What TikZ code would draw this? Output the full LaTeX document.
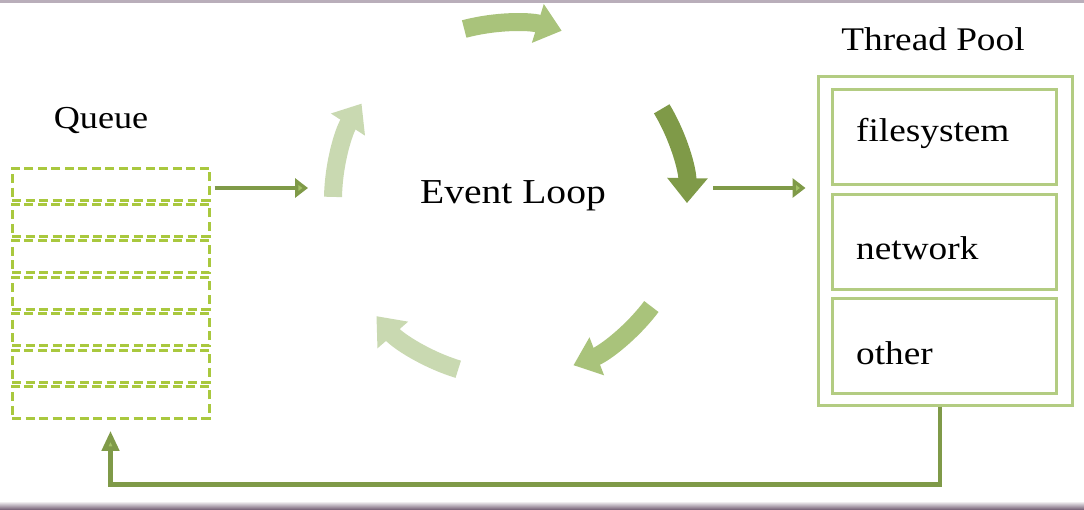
\documentclass[tikz,border=0pt]{standalone}
\usepackage{fontspec}
\setmainfont{Liberation Serif}[FakeStretch=1.13]
\usetikzlibrary{calc,arrows.meta}
\definecolor{qgreen}{HTML}{A9C83E}
\definecolor{pgreen}{HTML}{B3CC82}
\definecolor{dgreen}{HTML}{7F9A48}
\definecolor{mgreen}{HTML}{A9C37B}
\definecolor{lgreen}{HTML}{C9D9B1}
\definecolor{tipgreen}{HTML}{A4C266}
\definecolor{edgetop}{HTML}{B9AEBA}
\definecolor{edgebot}{HTML}{7D6A7E}

\tikzset{
  qbox/.style={draw=qgreen,line width=3pt,dash pattern=on 9pt off 4.5pt,
    minimum width=197pt,minimum height=32pt,inner sep=0pt},
  pbox/.style={draw=pgreen,line width=3pt,minimum width=224pt,minimum height=95pt,inner sep=0pt},
  ptext/.style={anchor=base west,inner sep=0pt,font=\fontsize{33}{38}\selectfont},
  lbl/.style={anchor=base,font=\fontsize{33}{40}\selectfont},
  feed/.style={draw=dgreen,line width=3.5pt,-{Triangle[length=13pt,width=19pt,fill=tipgreen]}},
  turn/.style={line width=18pt,-{Triangle[length=25pt,width=39pt]}}
}

\begin{document}
\begin{tikzpicture}[x=1pt,y=-1pt]
\useasboundingbox (0,0) rectangle (1084,509);
\fill[edgetop] (0,0) rectangle (1084,3);
\shade[top color=white,bottom color=edgebot] (0,501) rectangle (1084,509);

% queue
\node[lbl,font=\fontsize{32}{38}\selectfont] (qlabel) at (101,128) {Queue};
\foreach \i in {1,...,7}
  \node[qbox] (q\i) at (110.5,{184+36.4*(\i-1)}) {};

% event loop
\node[anchor=base,font=\fontsize{35}{42}\selectfont] (loop) at (513,203) {Event Loop};
\coordinate (hub) at (510,200);
\foreach \a/\col in {-105/mgreen, -31/dgreen, 37/mgreen, 107/lgreen, -179/lgreen}
  \draw[turn,\col] ($(hub)+(\a:177)$) arc[start angle=\a,delta angle=32,radius=177];
\coordinate (loopin) at (308,188);
\coordinate (loopout) at (713,188);

% thread pool
\node[lbl] (plabel) at (933,50) {Thread Pool};
\node[draw=pgreen,line width=3pt,minimum width=254pt,minimum height=329pt] (pool) at (945,240.5) {};
\node[pbox] (fs) at (944,136.5) {};
\node[pbox] (net) at (944,241.5) {};
\node[pbox] (oth) at (944,346) {};
\node[ptext] (fstext) at (856,141) {filesystem};
\node[ptext] (nettext) at (856,259) {network};
\node[ptext] (othtext) at (856,364) {other};

% connectors
\draw[feed] ([xshift=4pt]q1.east |- loopin) -- (loopin);
\draw[feed] (loopout) -- ([xshift=-11pt]loopout -| pool.west);
\draw[feed,line width=4.5pt,-{Triangle[length=20pt,width=17pt,fill=tipgreen]},shorten >=11pt]
  ([xshift=-5pt]pool.south) -- ++(0,78) -| (q7.south);
\end{tikzpicture}
\end{document}
